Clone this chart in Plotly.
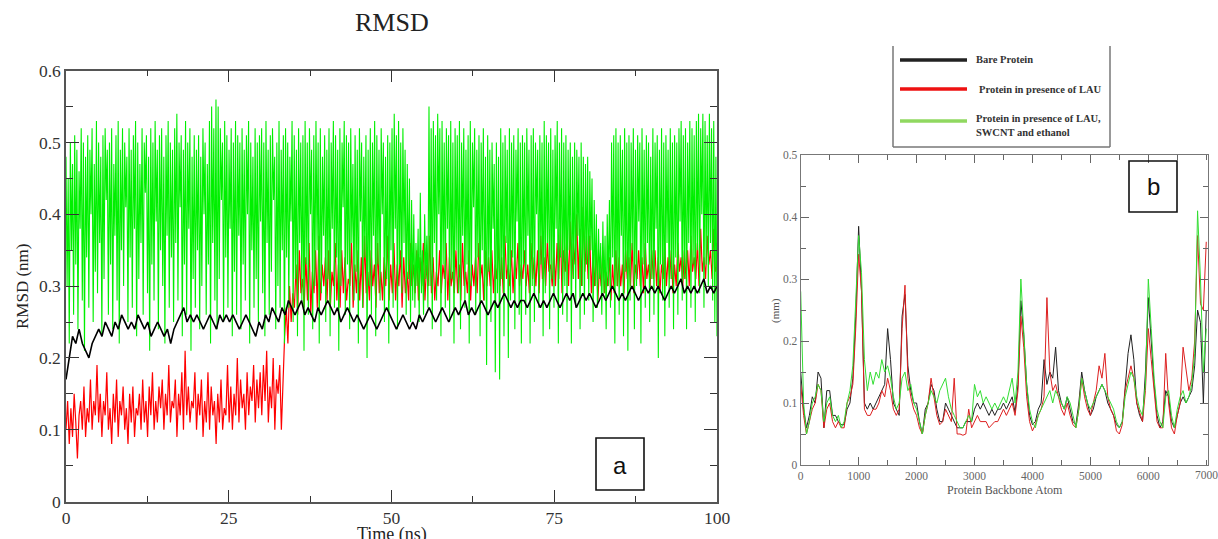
import numpy as np
import plotly.graph_objects as go

W, H = 1218, 539

# ---------------- Panel a: RMSD vs time (ns) ----------------
rmsd_green = [
    0.48,0.30,0.45,0.22,0.50,0.35,0.47,0.26,0.51,0.33,0.49,0.24,0.46,0.38,0.52,0.28,0.50,0.21,0.48,0.34,
    0.51,0.27,0.49,0.40,0.52,0.25,0.47,0.32,0.53,0.29,0.50,0.36,0.48,0.23,0.51,0.31,0.52,0.42,0.49,0.26,
    0.50,0.33,0.52,0.24,0.47,0.37,0.51,0.28,0.53,0.22,0.49,0.35,0.52,0.30,0.50,0.41,0.48,0.25,0.52,0.34,
    0.49,0.27,0.51,0.38,0.53,0.23,0.50,0.31,0.47,0.36,0.52,0.26,0.50,0.43,0.51,0.29,0.48,0.21,0.52,0.33,
    0.50,0.28,0.53,0.39,0.49,0.24,0.51,0.35,0.52,0.30,0.48,0.22,0.51,0.37,0.53,0.27,0.50,0.34,0.49,0.25,
    0.52,0.36,0.54,0.28,0.50,0.41,0.51,0.23,0.49,0.33,0.53,0.26,0.50,0.38,0.52,0.21,0.48,0.31,0.51,0.27,
    0.49,0.35,0.51,0.24,0.48,0.30,0.52,0.40,0.50,0.26,0.47,0.33,0.53,0.22,0.55,0.36,0.52,0.28,0.56,0.24,
    0.55,0.31,0.52,0.42,0.50,0.25,0.53,0.34,0.51,0.27,0.49,0.38,0.52,0.23,0.50,0.32,0.53,0.26,0.51,0.37,
    0.50,0.24,0.52,0.33,0.49,0.28,0.51,0.40,0.53,0.22,0.50,0.35,0.48,0.27,0.52,0.31,0.50,0.25,0.51,0.39,
    0.52,0.29,0.50,0.23,0.53,0.36,0.49,0.26,0.51,0.32,0.52,0.42,0.48,0.24,0.50,0.30,0.53,0.27,0.49,0.35,
    0.51,0.22,0.52,0.34,0.50,0.27,0.48,0.39,0.53,0.25,0.51,0.31,0.49,0.23,0.52,0.36,0.50,0.28,0.51,0.21,
    0.53,0.33,0.50,0.26,0.52,0.40,0.49,0.24,0.51,0.30,0.53,0.35,0.50,0.22,0.52,0.29,0.48,0.37,0.51,0.25,
    0.49,0.31,0.52,0.23,0.50,0.38,0.53,0.27,0.51,0.34,0.49,0.21,0.52,0.30,0.50,0.41,0.53,0.26,0.51,0.33,
    0.50,0.24,0.52,0.36,0.47,0.28,0.51,0.32,0.49,0.22,0.52,0.39,0.50,0.27,0.48,0.34,0.51,0.20,0.49,0.30,
    0.52,0.26,0.50,0.37,0.53,0.23,0.51,0.33,0.49,0.28,0.52,0.40,0.50,0.25,0.48,0.31,0.51,0.22,0.50,0.35,
    0.52,0.27,0.54,0.38,0.51,0.24,0.53,0.33,0.50,0.29,0.52,0.36,0.49,0.26,0.47,0.31,0.45,0.25,0.42,0.28,
    0.40,0.27,0.36,0.30,0.38,0.25,0.43,0.29,0.35,0.26,0.40,0.31,0.37,0.27,0.55,0.30,0.52,0.24,0.53,0.36,
    0.51,0.28,0.54,0.40,0.52,0.23,0.53,0.33,0.50,0.27,0.52,0.38,0.51,0.25,0.53,0.31,0.50,0.22,0.52,0.35,
    0.51,0.29,0.53,0.24,0.50,0.37,0.52,0.27,0.49,0.33,0.51,0.22,0.53,0.30,0.50,0.41,0.52,0.26,0.49,0.34,
    0.51,0.23,0.50,0.35,0.52,0.28,0.48,0.19,0.51,0.32,0.49,0.25,0.50,0.38,0.47,0.18,0.50,0.29,0.48,0.17,
    0.52,0.31,0.50,0.23,0.51,0.36,0.49,0.20,0.52,0.28,0.50,0.34,0.51,0.24,0.49,0.39,0.52,0.26,0.50,0.22,
    0.51,0.33,0.50,0.26,0.52,0.37,0.49,0.22,0.51,0.30,0.52,0.25,0.50,0.40,0.49,0.27,0.51,0.33,0.50,0.23,
    0.53,0.29,0.51,0.36,0.50,0.24,0.52,0.31,0.49,0.27,0.51,0.38,0.53,0.22,0.50,0.34,0.52,0.26,0.50,0.30,
    0.51,0.25,0.49,0.35,0.50,0.22,0.48,0.31,0.50,0.27,0.49,0.37,0.48,0.24,0.50,0.30,0.48,0.26,0.47,0.33,
    0.48,0.28,0.46,0.35,0.45,0.25,0.42,0.30,0.40,0.27,0.38,0.31,0.36,0.26,0.39,0.29,0.37,0.24,0.40,0.30,
    0.42,0.27,0.50,0.34,0.51,0.22,0.52,0.30,0.50,0.26,0.51,0.37,0.49,0.23,0.52,0.32,0.50,0.21,0.51,0.28,
    0.50,0.35,0.52,0.24,0.49,0.30,0.51,0.39,0.50,0.22,0.52,0.33,0.49,0.27,0.51,0.36,0.50,0.25,0.48,0.31,
    0.52,0.26,0.50,0.38,0.51,0.20,0.49,0.33,0.52,0.28,0.50,0.23,0.51,0.36,0.49,0.27,0.52,0.31,0.50,0.24,
    0.51,0.34,0.50,0.26,0.52,0.39,0.53,0.28,0.51,0.31,0.52,0.24,0.50,0.36,0.53,0.27,0.52,0.33,0.51,0.25,
    0.53,0.35,0.54,0.29,0.52,0.40,0.54,0.27,0.53,0.33,0.51,0.30,0.54,0.36,0.52,0.28,0.53,0.25,0.48,0.23,
]

rmsd_red = [
    0.10,0.14,0.08,0.13,0.09,0.15,0.11,0.06,0.12,0.14,0.10,0.16,0.09,0.13,0.11,0.17,0.10,0.14,0.12,0.19,
    0.11,0.15,0.09,0.14,0.12,0.18,0.10,0.13,0.08,0.15,0.11,0.17,0.09,0.14,0.12,0.16,0.10,0.13,0.08,0.15,
    0.11,0.16,0.09,0.13,0.12,0.15,0.10,0.17,0.11,0.14,0.09,0.16,0.12,0.18,0.10,0.14,0.11,0.16,0.13,0.17,
    0.10,0.15,0.12,0.19,0.11,0.14,0.13,0.17,0.09,0.15,0.12,0.18,0.10,0.21,0.12,0.16,0.11,0.14,0.13,0.18,
    0.10,0.15,0.12,0.17,0.09,0.14,0.11,0.18,0.10,0.16,0.12,0.14,0.08,0.15,0.11,0.17,0.10,0.13,0.12,0.19,
    0.11,0.16,0.10,0.15,0.12,0.20,0.11,0.17,0.13,0.15,0.10,0.18,0.12,0.16,0.14,0.19,0.11,0.17,0.13,0.18,
    0.12,0.19,0.14,0.21,0.11,0.16,0.13,0.20,0.10,0.17,0.15,0.19,0.10,0.18,0.23,0.27,0.22,0.30,0.25,0.29,
    0.27,0.33,0.26,0.35,0.29,0.31,0.27,0.34,0.28,0.36,0.26,0.32,0.29,0.35,0.27,0.37,0.28,0.33,0.30,0.34,
    0.28,0.35,0.27,0.32,0.30,0.36,0.28,0.33,0.27,0.35,0.29,0.34,0.28,0.31,0.30,0.36,0.27,0.33,0.29,0.35,
    0.28,0.34,0.27,0.37,0.29,0.32,0.28,0.35,0.30,0.33,0.27,0.36,0.29,0.32,0.28,0.34,0.30,0.37,0.28,0.33,
    0.29,0.36,0.28,0.33,0.30,0.35,0.27,0.34,0.29,0.32,0.28,0.36,0.30,0.33,0.29,0.35,0.28,0.34,0.30,0.36,
    0.28,0.33,0.30,0.37,0.29,0.34,0.28,0.32,0.30,0.35,0.29,0.33,0.31,0.36,0.28,0.34,0.30,0.32,0.29,0.35,
    0.29,0.33,0.28,0.36,0.30,0.32,0.29,0.35,0.28,0.33,0.30,0.34,0.29,0.36,0.31,0.33,0.28,0.35,0.30,0.34,
    0.30,0.35,0.29,0.33,0.31,0.36,0.30,0.34,0.29,0.37,0.31,0.33,0.30,0.35,0.29,0.34,0.31,0.36,0.30,0.33,
    0.31,0.35,0.30,0.33,0.29,0.36,0.31,0.34,0.30,0.35,0.29,0.37,0.31,0.34,0.30,0.36,0.32,0.33,0.30,0.35,
    0.30,0.36,0.31,0.38,0.29,0.35,0.32,0.37,0.30,0.39,0.31,0.36,0.33,0.40,0.31,0.38,0.30,0.41,0.32,0.37,
    0.31,0.37,0.29,0.34,0.30,0.36,0.28,0.33,0.30,0.35,0.29,0.32,0.30,0.34,0.28,0.33,0.29,0.35,0.30,0.34,
    0.30,0.33,0.29,0.35,0.31,0.34,0.30,0.36,0.29,0.33,0.31,0.35,0.30,0.34,0.29,0.36,0.31,0.33,0.30,0.35,
    0.31,0.35,0.30,0.34,0.29,0.33,0.31,0.36,0.30,0.34,0.31,0.35,0.29,0.33,0.30,0.36,0.32,0.34,0.30,0.35,
    0.31,0.35,0.30,0.37,0.32,0.34,0.31,0.36,0.30,0.38,0.32,0.34,0.31,0.37,0.33,0.35,0.31,0.38,0.32,0.33,
]

rmsd_black = [
    0.17,0.20,0.23,0.22,0.24,0.22,0.21,0.20,0.22,0.23,
    0.24,0.23,0.25,0.24,0.23,0.25,0.24,0.26,0.25,0.24,
    0.25,0.24,0.26,0.25,0.24,0.25,0.23,0.24,0.25,0.24,
    0.23,0.24,0.22,0.24,0.25,0.26,0.27,0.25,0.26,0.25,
    0.26,0.25,0.24,0.25,0.26,0.25,0.24,0.26,0.25,0.26,
    0.25,0.26,0.25,0.24,0.25,0.26,0.25,0.24,0.23,0.25,
    0.24,0.26,0.25,0.27,0.26,0.25,0.27,0.26,0.28,0.27,
    0.26,0.27,0.28,0.26,0.27,0.26,0.25,0.27,0.26,0.27,
    0.28,0.27,0.26,0.27,0.25,0.26,0.27,0.26,0.25,0.26,
    0.25,0.24,0.25,0.26,0.25,0.24,0.25,0.26,0.27,0.26,
    0.25,0.24,0.25,0.26,0.25,0.24,0.25,0.24,0.26,0.25,
    0.26,0.27,0.26,0.25,0.26,0.27,0.26,0.25,0.26,0.27,
    0.26,0.27,0.28,0.26,0.27,0.26,0.27,0.28,0.27,0.26,
    0.27,0.28,0.27,0.28,0.29,0.28,0.27,0.28,0.27,0.28,
    0.28,0.27,0.28,0.29,0.28,0.27,0.28,0.27,0.28,0.29,
    0.28,0.27,0.28,0.29,0.28,0.29,0.27,0.28,0.29,0.28,
    0.29,0.28,0.27,0.28,0.29,0.28,0.29,0.30,0.29,0.28,
    0.29,0.28,0.29,0.30,0.29,0.28,0.29,0.30,0.29,0.30,
    0.29,0.30,0.29,0.28,0.29,0.30,0.29,0.30,0.31,0.29,
    0.30,0.29,0.30,0.29,0.30,0.31,0.29,0.30,0.29,0.30,
]

time_ticks = [0, 25, 50, 75, 100]
rmsd_ticks = [0, 0.1, 0.2, 0.3, 0.4, 0.5, 0.6]
rmsd_tick_text = ["0", "0.1", "0.2", "0.3", "0.4", "0.5", "0.6"]

# ---------------- Panel b: per-atom fluctuation ----------------
atom_step = 50
atom_ticks = [0, 1000, 2000, 3000, 4000, 5000, 6000, 7000]
rmsf_ticks = [0, 0.1, 0.2, 0.3, 0.4, 0.5]
rmsf_green = [
    0.28,0.10,0.05,0.07,0.10,0.11,0.13,0.12,0.07,0.10,
    0.11,0.08,0.07,0.08,0.06,0.07,0.10,0.12,0.16,0.26,
    0.37,0.31,0.17,0.12,0.15,0.13,0.15,0.14,0.17,0.15,
    0.16,0.14,0.11,0.09,0.10,0.14,0.15,0.12,0.13,0.10,
    0.09,0.07,0.05,0.08,0.10,0.12,0.11,0.10,0.12,0.13,
    0.14,0.11,0.09,0.08,0.07,0.06,0.06,0.07,0.08,0.07,
    0.13,0.11,0.12,0.10,0.11,0.10,0.09,0.10,0.09,0.10,
    0.11,0.10,0.12,0.14,0.10,0.15,0.30,0.22,0.13,0.09,
    0.07,0.06,0.08,0.09,0.10,0.11,0.12,0.10,0.12,0.11,
    0.10,0.09,0.11,0.10,0.08,0.06,0.09,0.14,0.12,0.10,
    0.09,0.10,0.11,0.12,0.13,0.12,0.11,0.10,0.09,0.07,
    0.06,0.07,0.11,0.13,0.15,0.14,0.11,0.09,0.08,0.13,
    0.30,0.22,0.14,0.09,0.07,0.06,0.11,0.12,0.08,0.06,
    0.09,0.11,0.12,0.10,0.11,0.13,0.18,0.41,0.30,0.15,
    0.22,
]
rmsf_black = [
    0.15,0.09,0.06,0.08,0.11,0.10,0.15,0.14,0.06,0.12,
    0.12,0.08,0.08,0.07,0.065,0.065,0.09,0.10,0.14,0.24,
    0.385,0.28,0.10,0.09,0.10,0.09,0.10,0.11,0.12,0.13,
    0.22,0.17,0.10,0.09,0.08,0.24,0.275,0.16,0.12,0.10,
    0.10,0.07,0.05,0.09,0.10,0.13,0.12,0.09,0.07,0.07,
    0.10,0.09,0.08,0.07,0.06,0.06,0.06,0.07,0.07,0.07,
    0.09,0.10,0.09,0.10,0.09,0.08,0.09,0.08,0.09,0.09,
    0.10,0.09,0.10,0.11,0.085,0.13,0.265,0.21,0.13,0.08,
    0.065,0.07,0.09,0.10,0.17,0.13,0.15,0.14,0.19,0.12,
    0.10,0.09,0.11,0.09,0.07,0.065,0.10,0.15,0.12,0.10,
    0.08,0.09,0.11,0.12,0.13,0.12,0.10,0.09,0.08,0.065,
    0.06,0.07,0.13,0.18,0.21,0.17,0.10,0.08,0.07,0.15,
    0.27,0.20,0.13,0.08,0.06,0.07,0.12,0.11,0.07,0.06,
    0.08,0.10,0.11,0.10,0.11,0.12,0.16,0.25,0.23,0.10,
    0.25,
]
rmsf_red = [
    0.13,0.08,0.05,0.07,0.09,0.10,0.13,0.12,0.06,0.09,
    0.10,0.07,0.06,0.07,0.06,0.06,0.10,0.11,0.13,0.22,
    0.34,0.28,0.09,0.08,0.08,0.09,0.09,0.10,0.12,0.11,
    0.14,0.12,0.09,0.08,0.09,0.22,0.29,0.14,0.11,0.09,
    0.08,0.06,0.05,0.08,0.10,0.14,0.11,0.08,0.065,0.07,
    0.09,0.08,0.07,0.14,0.05,0.05,0.048,0.05,0.09,0.06,
    0.07,0.08,0.07,0.07,0.07,0.06,0.065,0.07,0.07,0.08,
    0.09,0.08,0.09,0.10,0.08,0.12,0.24,0.19,0.11,0.07,
    0.055,0.065,0.08,0.09,0.11,0.27,0.15,0.12,0.13,0.11,
    0.09,0.08,0.10,0.08,0.065,0.06,0.09,0.14,0.11,0.09,
    0.08,0.10,0.12,0.16,0.14,0.18,0.11,0.09,0.08,0.055,
    0.05,0.065,0.12,0.14,0.16,0.14,0.10,0.085,0.07,0.12,
    0.22,0.17,0.12,0.07,0.06,0.06,0.18,0.10,0.06,0.05,
    0.08,0.10,0.19,0.15,0.12,0.14,0.20,0.37,0.26,0.25,
    0.36,
]
legend_labels = ["Bare Protein", "Protein in presence of LAU",
                 "Protein in presence of LAU,<br>SWCNT and ethanol"]

# ---------------- helpers ----------------
def px(x):
    return x / W

def py(y):
    return 1 - y / H

t_green = np.linspace(0, 100, len(rmsd_green))
t_red = np.linspace(0, 100, len(rmsd_red))
t_black = np.linspace(0, 100, len(rmsd_black))
atoms = np.arange(len(rmsf_green)) * atom_step

fig = go.Figure()
fig.add_trace(go.Scatter(x=t_red, y=rmsd_red, mode="lines",
                         line=dict(color="#ff0000", width=1.2), xaxis="x", yaxis="y"))
fig.add_trace(go.Scatter(x=t_green, y=rmsd_green, mode="lines",
                         line=dict(color="#00f000", width=1.1), xaxis="x", yaxis="y"))
fig.add_trace(go.Scatter(x=t_black, y=rmsd_black, mode="lines",
                         line=dict(color="#000000", width=1.6), xaxis="x", yaxis="y"))

fig.add_trace(go.Scatter(x=atoms, y=rmsf_black, mode="lines",
                         line=dict(color="#222222", width=1), xaxis="x2", yaxis="y2"))
fig.add_trace(go.Scatter(x=atoms, y=rmsf_red, mode="lines",
                         line=dict(color="#dd2020", width=1), xaxis="x2", yaxis="y2"))
fig.add_trace(go.Scatter(x=atoms, y=rmsf_green, mode="lines",
                         line=dict(color="#33dd33", width=1), xaxis="x2", yaxis="y2"))

serif = "Liberation Serif"
axcol_a = "#555555"
axcol_b = "#777777"

common_a = dict(showgrid=False, zeroline=False, showline=True, linecolor=axcol_a,
                linewidth=1.5, ticks="inside", mirror="ticks", tickcolor="#333333",
                tickwidth=1.2, automargin=False,
                tickfont=dict(family=serif, size=17.5, color="#333333"))
common_b = dict(showgrid=False, zeroline=False, showline=True, linecolor=axcol_b,
                linewidth=1.3, ticks="inside", mirror="ticks", tickcolor="#666666",
                tickwidth=1, automargin=False,
                tickfont=dict(family=serif, size=11.5, color="#666666"))

fig.update_layout(
    width=W, height=H, margin=dict(l=0, r=0, t=0, b=0, autoexpand=False),
    paper_bgcolor="white", plot_bgcolor="white", showlegend=False,
    xaxis=dict(domain=[px(66), px(717)], range=[0, 100], tickvals=time_ticks,
               ticklen=12, minor=dict(dtick=12.5, tick0=0, ticklen=6, ticks="inside",
                                      tickcolor="#333333"),
               anchor="y", **common_a),
    yaxis=dict(domain=[py(501.5), py(70.7)], range=[0, 0.6], tickvals=rmsd_ticks,
               ticktext=rmsd_tick_text,
               ticklen=13, minor=dict(dtick=0.05, tick0=0, ticklen=7, ticks="inside",
                                      tickcolor="#333333"),
               anchor="x", **common_a),
    xaxis2=dict(domain=[px(800.7), px(1208)], range=[0, 7030], tickvals=atom_ticks[:-1],
                ticklen=8, minor=dict(dtick=500, tick0=0, ticklen=5, ticks="inside",
                                      tickcolor="#666666"),
                anchor="y2", **common_b),
    yaxis2=dict(domain=[py(465), py(155)], range=[0, 0.5], tickvals=rmsf_ticks,
                ticklen=8, minor=dict(dtick=0.05, tick0=0, ticklen=5, ticks="inside",
                                      tickcolor="#666666"),
                anchor="x2", **common_b),
)

def ann(x, y, text, size, color="#222222", family=serif, angle=0, xanchor="center"):
    return dict(x=px(x), y=py(y), text=text, showarrow=False, xref="paper", yref="paper",
                xanchor=xanchor, yanchor="middle", textangle=angle, align="left",
                font=dict(family=family, size=size, color=color))

annotations = [
    ann(392, 23, "RMSD", 26),
    ann(22, 287, "RMSD (nm)", 17, angle=-90),
    ann(392, 534, "Time (ns)", 18),
    ann(620, 465, "a", 24, color="#111111", family="Liberation Sans"),
    ann(1153, 187, "b", 24, color="#111111", family="Liberation Sans"),
    ann(1005, 490, "Protein Backbone Atom", 12, color="#555555"),
    ann(775, 310, "(mm)", 11, color="#555555", angle=-90),
    ann(974, 60, "<b>" + legend_labels[0] + "</b>", 10.5, color="#333333", xanchor="left"),
    ann(977, 89, "<b>" + legend_labels[1] + "</b>", 10.5, color="#333333", xanchor="left"),
    ann(974, 126, "<b>" + legend_labels[2] + "</b>", 10.5, color="#333333", xanchor="left"),
    # last x tick label of panel b (sits at the page edge, as in the original)
    dict(x=atom_ticks[-1], y=py(475), xref="x2", yref="paper", text=str(atom_ticks[-1]),
         showarrow=False, xanchor="center", yanchor="middle",
         font=dict(family=serif, size=11.5, color="#666666")),
]
fig.update_layout(annotations=annotations)

def rect(x0, y0, x1, y1, color="#111111", width=1.6):
    return dict(type="rect", xref="paper", yref="paper", x0=px(x0), x1=px(x1),
                y0=py(y1), y1=py(y0), line=dict(color=color, width=width))

def seg(x0, y0, x1, y1, color, width):
    return dict(type="line", xref="paper", yref="paper", x0=px(x0), x1=px(x1),
                y0=py(y0), y1=py(y1), line=dict(color=color, width=width))

shapes = [
    rect(596, 438, 644, 490),
    rect(1129, 161, 1177, 212),
    seg(893, 46, 893, 147, "#777777", 1.5),
    seg(1110, 46, 1110, 147, "#777777", 1.5),
    seg(893, 147, 1110, 147, "#777777", 1.5),
]
for c, yy in zip(["#222222", "#ee1111", "#90d860"], [60, 89, 121]):
    shapes.append(seg(900, yy, 967, yy, c, 3.5))
fig.update_layout(shapes=shapes)

fig.write_html("out.html", config={"displayModeBar": False},
               post_script="document.body.style.margin='0px';document.body.style.overflow='hidden';")
